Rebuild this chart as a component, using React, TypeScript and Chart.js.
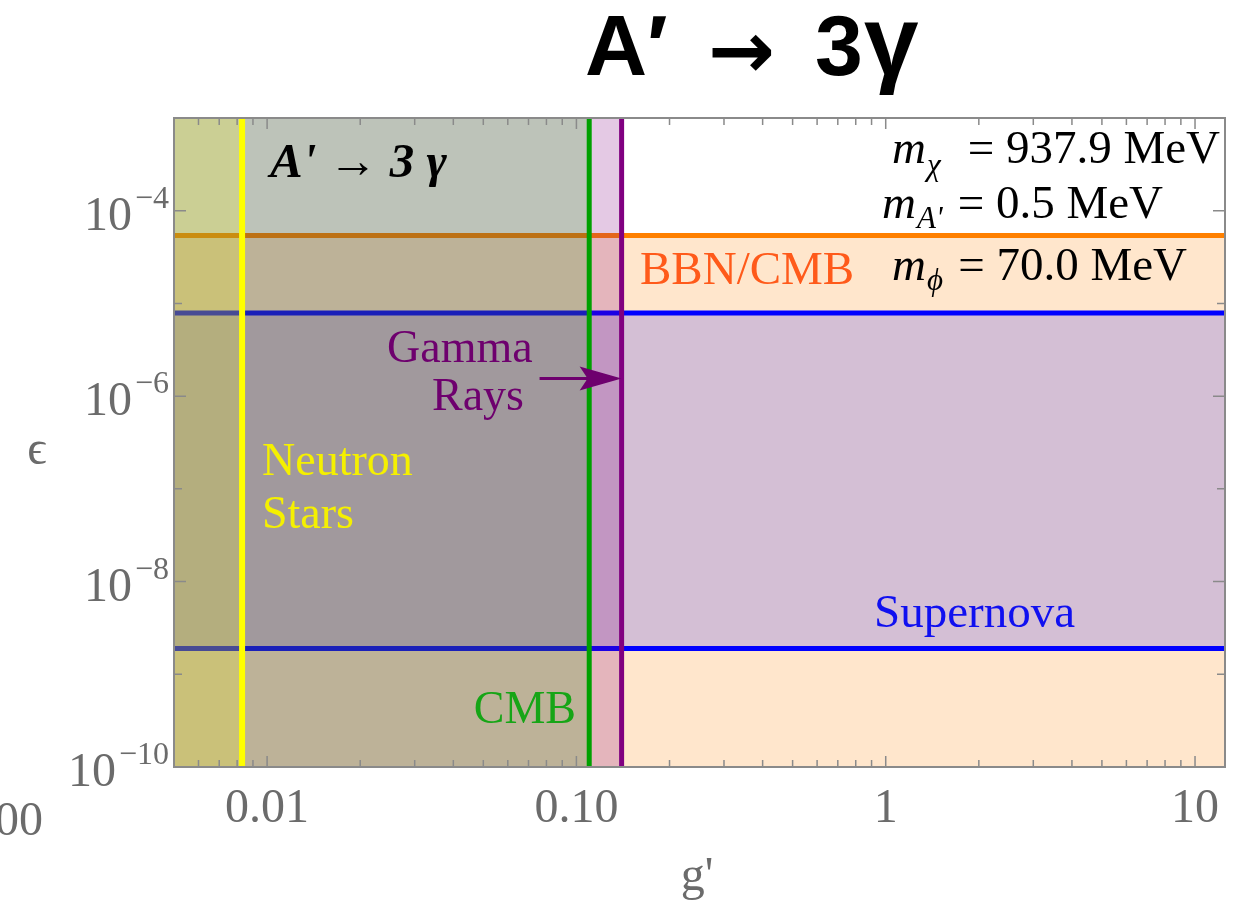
import { useEffect, useRef } from 'react';
import { Chart, registerables } from 'chart.js';

Chart.register(...registerables);

// Axis extents: coupling g' (x) and kinetic mixing epsilon (y)
const gLimits = [0.005, 12.5];
const epsLimits = [1e-10, 1e-3];

// Tick labels
const gTickValues = [0.01, 0.1, 1, 10];
const gTickLabels = ['0.01', '0.10', '1', '10'];
const epsTickExponents = [-4, -6, -8, -10];

// Constraint boundaries
const bbnCmbEps = 5.4e-5; // BBN/CMB excludes epsilon below this
const supernovaEps = [1.9e-9, 7.9e-6]; // supernova excludes this window
const neutronStarG = 0.0083; // neutron stars exclude g' below this
const cmbG = 0.11; // CMB excludes g' below this
const gammaRayG = 0.14; // gamma rays exclude g' below this
const gammaArrow = { fromG: 0.076, eps: 1.55e-6 };

// Benchmark masses
const massLines = [
  { sub: 'χ', value: '= 937.9 MeV' },
  { sub: "A'", value: '= 0.5 MeV' },
  { sub: 'ϕ', value: '= 70.0 MeV' },
];

const SERIF = "'Liberation Serif', 'Times New Roman', serif";
const SANS = "'Liberation Sans', Arial, sans-serif";
const AXIS_GRAY = '#6b6b6b';
const FRAME_GRAY = '#8a8a8a';

const hLine = (y: number) => [
  { x: gLimits[0], y },
  { x: gLimits[1], y },
];
const vBand = (x: number) => [
  { x: gLimits[0], y: epsLimits[1] },
  { x, y: epsLimits[1] },
];
const vLine = (x: number) => [
  { x, y: epsLimits[0] },
  { x, y: epsLimits[1] },
];

const fillSet = (data: any[], color: string, fill: any, order: number) => ({
  data,
  backgroundColor: color,
  borderColor: 'transparent',
  borderWidth: 1,
  pointRadius: 0,
  fill,
  order,
});

const lineSet = (data: any[], color: string, width: number, order: number) => ({
  data,
  borderColor: color,
  borderWidth: width,
  pointRadius: 0,
  fill: false,
  order,
});

const datasets = [
  fillSet(hLine(bbnCmbEps), 'rgba(255,128,0,0.2)', 'start', 10),
  fillSet(hLine(supernovaEps[1]), 'rgba(0,0,255,0.17)', '+1', 9),
  fillSet(hLine(supernovaEps[0]), 'transparent', false, 9),
  lineSet(hLine(bbnCmbEps), '#ff8000', 5, 8),
  lineSet(hLine(supernovaEps[1]), '#0000ff', 5, 8),
  lineSet(hLine(supernovaEps[0]), '#0000ff', 5, 8),
  fillSet(vBand(gammaRayG), 'rgba(128,0,128,0.21)', 'start', 6),
  fillSet(vBand(cmbG), 'rgba(20,165,0,0.19)', 'start', 5),
  fillSet(vBand(neutronStarG), 'rgba(255,255,0,0.2)', 'start', 4),
  lineSet(vLine(gammaRayG), '#800080', 5, 3),
  lineSet(vLine(cmbG), '#00a000', 5, 2),
  lineSet(vLine(neutronStarG), '#ffff00', 6, 1),
];

// Frame with inward ticks on all four sides
const framePlugin = {
  id: 'frameTicks',
  afterDatasetsDraw(chart: any) {
    const { ctx, chartArea: a, scales } = chart;
    const xs = scales.x;
    const ys = scales.y;
    ctx.save();
    ctx.strokeStyle = FRAME_GRAY;
    ctx.lineWidth = 1.5;
    ctx.beginPath();
    for (let e = -3; e <= 1; e++) {
      for (let k = 1; k <= 9; k++) {
        const v = k * Math.pow(10, e);
        if (v <= gLimits[0] || v >= gLimits[1]) continue;
        const px = xs.getPixelForValue(v);
        const len = k === 1 ? 11 : 7;
        ctx.moveTo(px, a.bottom);
        ctx.lineTo(px, a.bottom - len);
        ctx.moveTo(px, a.top);
        ctx.lineTo(px, a.top + len);
      }
    }
    for (let e = -9; e <= -4; e++) {
      const py = ys.getPixelForValue(Math.pow(10, e));
      const len = e % 2 === 0 ? 12 : 8;
      ctx.moveTo(a.left, py);
      ctx.lineTo(a.left + len, py);
      ctx.moveTo(a.right, py);
      ctx.lineTo(a.right - len, py);
    }
    ctx.stroke();
    ctx.lineWidth = 2;
    ctx.strokeRect(a.left, a.top, a.right - a.left, a.bottom - a.top);
    ctx.restore();
  },
};

const labelPlugin = {
  id: 'labels',
  afterDraw(chart: any) {
    const { ctx, chartArea: a, scales } = chart;
    const xs = scales.x;
    const ys = scales.y;
    ctx.save();
    ctx.textBaseline = 'alphabetic';

    // x tick labels
    ctx.fillStyle = AXIS_GRAY;
    ctx.font = `48px ${SERIF}`;
    ctx.textAlign = 'center';
    gTickValues.forEach((v, i) => {
      ctx.fillText(gTickLabels[i], xs.getPixelForValue(v), a.bottom + 55);
    });
    // neighbouring panel's last label, clipped by the page edge
    ctx.textAlign = 'right';
    ctx.fillText('100', 43, 835);

    // y tick labels 10^n
    epsTickExponents.forEach((e) => {
      const py = ys.getPixelForValue(Math.pow(10, e));
      const sup = `\u2212${Math.abs(e)}`;
      ctx.font = `32px ${SERIF}`;
      const wSup = ctx.measureText(sup).width;
      ctx.font = `48px ${SERIF}`;
      const wBase = ctx.measureText('10').width;
      const right = a.left - 5;
      ctx.textAlign = 'left';
      ctx.fillText('10', right - wSup - 3 - wBase, py + 19);
      ctx.font = `32px ${SERIF}`;
      ctx.fillText(sup, right - wSup, py - 3);
    });

    // axis titles
    ctx.font = `48px ${SERIF}`;
    ctx.textAlign = 'center';
    ctx.fillText('ϵ', 37, 464);
    ctx.fillText("g'", 697, 890);

    // headline
    ctx.fillStyle = '#000';
    ctx.textAlign = 'left';
    ctx.font = `bold 86px ${SANS}`;
    ctx.fillText('A′', 585, 75);
    ctx.fillText('3', 815, 75);
    ctx.font = `bold 98px ${SANS}`;
    ctx.fillText('γ', 864, 75);
    ctx.font = `bold 80px 'DejaVu Sans', ${SANS}`;
    ctx.fillText('→', 708, 78);

    // in-panel process label
    ctx.font = `italic bold 49px ${SERIF}`;
    ctx.fillText("A' → 3 γ", 270, 177);

    // benchmark masses
    const massX = [892, 882, 892];
    const massBase = [163, 218, 280];
    const massRight = [1220, 1163, 1187];
    const subDy = [12, 10, 10];
    massLines.forEach((m, i) => {
      ctx.textAlign = 'left';
      ctx.font = `italic 47px ${SERIF}`;
      ctx.fillText('m', massX[i], massBase[i]);
      const wm = ctx.measureText('m').width;
      ctx.font = `italic 31px ${SERIF}`;
      ctx.fillText(m.sub, massX[i] + wm + 1, massBase[i] + subDy[i]);
      ctx.font = `47px ${SERIF}`;
      ctx.textAlign = 'right';
      ctx.fillText(m.value, massRight[i], massBase[i]);
    });

    // constraint labels
    ctx.textAlign = 'left';
    ctx.font = `47px ${SERIF}`;
    ctx.fillStyle = '#ff5a1a';
    ctx.fillText('BBN/CMB', 640, 284);
    ctx.fillStyle = '#1010f0';
    ctx.fillText('Supernova', 874, 627);

    ctx.font = `46px ${SERIF}`;
    ctx.fillStyle = '#f5f000';
    ctx.fillText('Neutron', 262, 475);
    ctx.fillText('Stars', 262, 528);

    ctx.fillStyle = '#16a516';
    ctx.textAlign = 'right';
    ctx.fillText('CMB', 576, 723);

    ctx.fillStyle = '#6e006e';
    ctx.textAlign = 'left';
    ctx.fillText('Gamma', 387, 362);
    ctx.fillText('Rays', 432, 410);

    // arrow pointing at the gamma-ray bound
    const ax0 = xs.getPixelForValue(gammaArrow.fromG);
    const ax1 = xs.getPixelForValue(gammaRayG);
    const ay = ys.getPixelForValue(gammaArrow.eps);
    ctx.strokeStyle = '#6e006e';
    ctx.lineWidth = 3;
    ctx.beginPath();
    ctx.moveTo(ax0, ay);
    ctx.lineTo(ax1 - 30, ay);
    ctx.stroke();
    ctx.beginPath();
    ctx.moveTo(ax1, ay);
    ctx.lineTo(ax1 - 42, ay - 12);
    ctx.lineTo(ax1 - 34, ay);
    ctx.lineTo(ax1 - 42, ay + 12);
    ctx.closePath();
    ctx.fill();

    ctx.restore();
  },
};

export default function App() {
  const canvasRef = useRef<HTMLCanvasElement>(null);

  useEffect(() => {
    if (!canvasRef.current) return;
    const chart = new Chart(canvasRef.current, {
      type: 'line',
      data: { datasets: datasets as any },
      options: {
        responsive: true,
        maintainAspectRatio: false,
        animation: false,
        events: [],
        layout: { padding: { left: 174, right: 21, top: 118, bottom: 138 } },
        elements: { line: { tension: 0 }, point: { radius: 0 } },
        scales: {
          x: { type: 'logarithmic', min: gLimits[0], max: gLimits[1], display: false },
          y: { type: 'logarithmic', min: epsLimits[0], max: epsLimits[1], display: false },
        },
        plugins: { legend: { display: false }, tooltip: { enabled: false } },
      },
      plugins: [framePlugin, labelPlugin],
    });
    return () => chart.destroy();
  }, []);

  return (
    <div style={{ position: 'absolute', left: 0, top: 0, width: 1246, height: 905, background: '#fff' }}>
      <canvas ref={canvasRef} />
    </div>
  );
}
